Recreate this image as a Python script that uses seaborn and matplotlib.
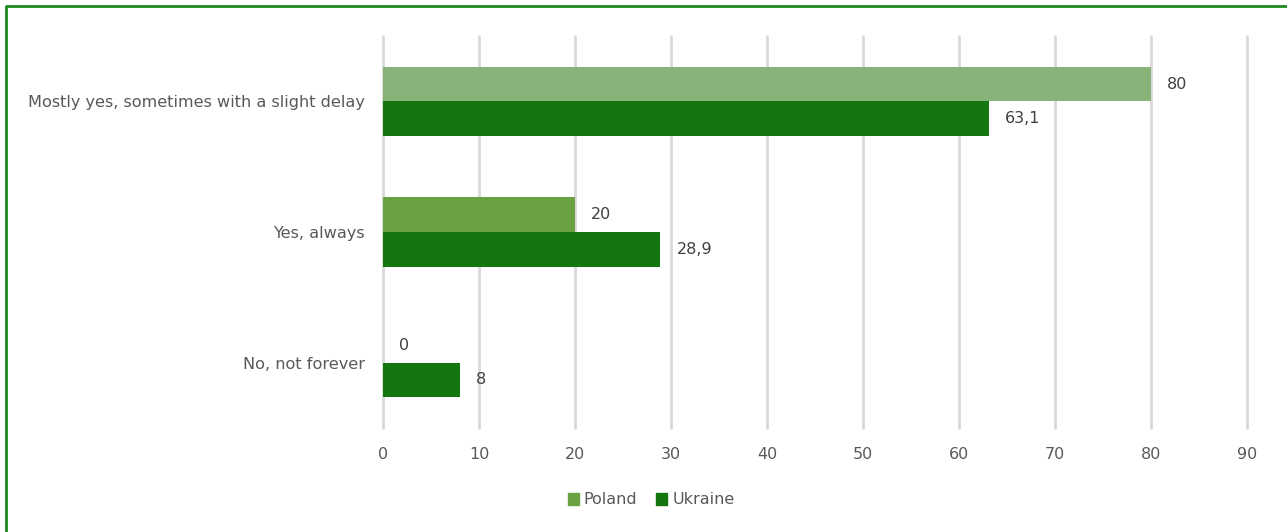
import matplotlib
matplotlib.use("Agg")
import matplotlib.pyplot as plt
import matplotlib.lines as mlines
import matplotlib.patches as mpatches
import seaborn as sns
import pandas as pd

categories = ["Mostly yes, sometimes with a slight delay", "Yes, always", "No, not forever"]
poland = [80, 20, 0]
ukraine = [63.1, 28.9, 8]
series = ["Poland", "Ukraine"]
x_ticks = [0, 10, 20, 30, 40, 50, 60, 70, 80, 90]

poland_colors = ["#88B378", "#6AA142", "#6AA142"]
ukraine_color = "#13760F"
legend_colors = {"Poland": "#6AA142", "Ukraine": ukraine_color}

df = pd.DataFrame({
    "category": categories * 2,
    "value": poland + ukraine,
    "country": ["Poland"] * 3 + ["Ukraine"] * 3,
})

sns.set_theme(style="white")
plt.rcParams["font.family"] = ["DejaVu Sans"]

fig = plt.figure(figsize=(12.87, 5.32), dpi=100)
W, H = 1287, 532
ax = fig.add_axes([383 / W, 1 - 428 / H, (1247 - 383) / W, (428 - 36) / H])

sns.barplot(data=df, x="value", y="category", hue="country", order=categories,
            hue_order=series, orient="h", width=0.53, ax=ax,
            palette=legend_colors, legend=False, saturation=1, linewidth=0)

# recolour Poland bars individually
containers = ax.containers
for patch, col in zip(containers[0].patches, poland_colors):
    patch.set_facecolor(col)

def fmt(v):
    s = f"{v:g}"
    return s.replace(".", ",")

for cont, vals in zip(containers, [poland, ukraine]):
    for patch, v in zip(cont.patches, vals):
        y = patch.get_y() + patch.get_height() / 2
        ax.annotate(fmt(v), xy=(patch.get_width(), y), xytext=(16, 0),
                    textcoords="offset pixels", ha="left", va="center",
                    fontsize=11.5, color="#404040")

ax.set_xlim(0, 90)
ax.set_ylim(2.5, -0.5)
ax.set_xticks(x_ticks)
ax.set_xticklabels([str(t) for t in x_ticks])
ax.xaxis.grid(True, color="#D9D9D9", linewidth=2)
for gl in ax.get_xgridlines():
    gl.set_clip_on(False)
ax.yaxis.grid(False)
ax.set_axisbelow(True)
for s in ax.spines.values():
    s.set_visible(False)
ax.tick_params(axis="x", length=0, pad=14, labelsize=11.5, labelcolor="#595959")
ax.tick_params(axis="y", length=0, pad=13, labelsize=11.6, labelcolor="#595959")
ax.set_xlabel("")
ax.set_ylabel("")

handles = [mpatches.Patch(color=legend_colors[s], label=s) for s in series]
fig.legend(handles=handles, loc="center", bbox_to_anchor=(651 / W, 1 - 500 / H),
           ncol=2, frameon=False, fontsize=11.5, labelcolor="#595959",
           handlelength=0.7, handleheight=0.7, handletextpad=0.3, columnspacing=1.2)

# figure frame along the top and left edges
fig.add_artist(mlines.Line2D([6 / W, 6 / W, 1.0], [0.0, 1 - 6 / H, 1 - 6 / H],
                             transform=fig.transFigure, color="#1E8A1E", linewidth=2))

fig.savefig("out.png", dpi=100, facecolor="white")
